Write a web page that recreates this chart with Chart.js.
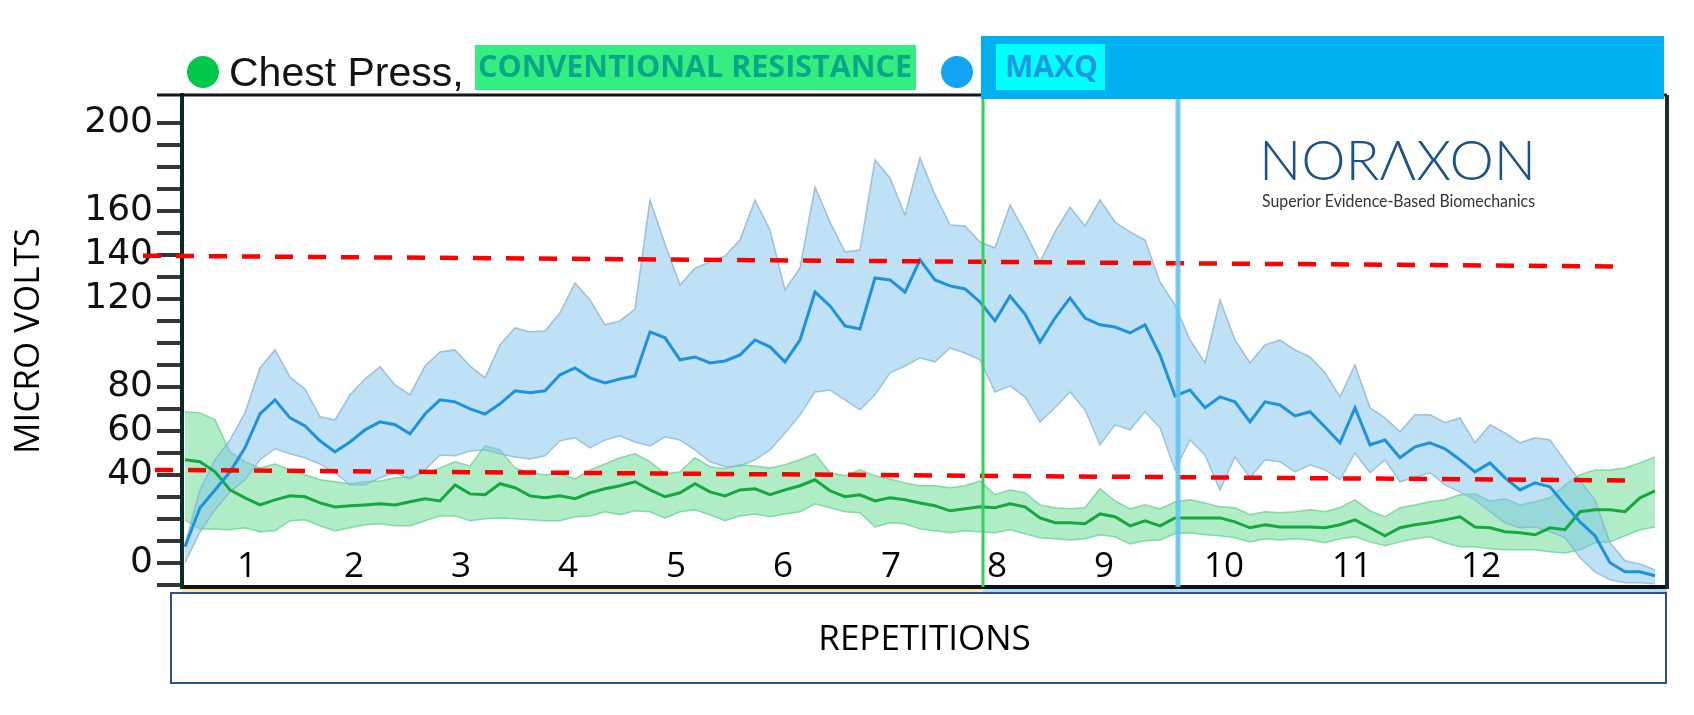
<!DOCTYPE html>
<html>
<head>
<meta charset="utf-8">
<script src="https://cdn.jsdelivr.net/npm/chart.js@4.4.1/dist/chart.umd.min.js"></script>
<style>
html,body{margin:0;padding:0;background:#fff;}
#wrap{width:1694px;height:715px;position:relative;}
</style>
</head>
<body>
<div id="wrap"><canvas id="c" width="1694" height="715"></canvas></div>
<script>
// ---------------- DATA ----------------
const repLabels = ['1','2','3','4','5','6','7','8','9','10','11','12'];
// positions of repetition labels along the sample axis
const repPositions = [4.13, 11.27, 18.4, 25.53, 32.73, 39.87, 47.07, 54.13, 61.27, 69.27, 77.8, 86.4];
const yTickLabels = [0, 40, 60, 80, 120, 140, 160, 200];
const yTickMarks = [-10,0,10,20,30,40,50,60,70,80,90,100,110,120,130,140,150,160,170,180,190,200];

// MAXQ (blue) mean and band
const maxqMean = [7.3,25.0,33.1,41.3,52.2,67.6,74.0,65.8,62.2,55.4,
 50.4,54.9,60.4,64.0,62.7,58.6,67.6,74.0,73.1,69.9,
 67.6,72.2,78.1,77.2,78.1,85.4,88.5,84.0,81.7,83.5,
 84.9,104.9,102.2,92.2,93.5,90.8,91.7,94.4,101.2,98.1,
 91.3,101.2,123.0,116.7,107.6,106.2,129.4,128.5,123.0,137.6,
 128.5,125.8,124.4,118.5,109.9,121.2,113.0,100.3,111.2,120.3,
 111.2,108.1,107.1,104.4,108.1,94.4,75.8,78.5,70.4,75.4,
 73.1,64.0,73.1,71.7,66.7,68.6,61.7,54.5,70.4,53.6,
 55.8,47.7,52.7,54.5,51.8,46.8,41.3,45.4,38.6,33.1,
 36.3,34.5,26.3,18.6,12.3,0,-4.1,-4.1,-5.9];
const maxqUpper = [8.2,33.1,46.8,55.8,68.1,88.5,96.7,84.4,79.0,66.3,
 64.9,76.3,83.5,89.0,80.8,76.3,89.4,95.8,96.7,89.4,
 84.0,99.0,106.7,104.9,105.3,113.5,127.1,119.4,108.1,109.9,
 115.3,164.8,144.8,126.2,133.9,136.7,139.4,146.6,164.8,151.2,
 123.9,133.9,170.7,154.8,141.2,142.1,183.0,174.8,158.0,183.9,
 167.1,153.5,153.0,145.7,143.0,162.5,150.3,136.7,150.3,161.6,
 153.0,164.8,154.8,150.3,146.6,127.6,117.1,101.2,90.8,119.4,
 101.2,90.8,99.0,101.2,96.7,93.5,86.3,75.4,89.9,70.4,
 65.8,59.5,67.2,67.2,63.6,65.8,54.5,62.7,59.0,54.5,
 56.8,55.8,46.3,37.2,28.6,9.1,0.9,-0.5,-3.2];
const maxqLower = [0,14.1,24.1,32.2,37.7,46.8,51.8,49.5,47.7,44.9,
 40.9,35.4,35.4,38.6,40.9,38.1,42.2,49.0,48.6,50.8,
 51.3,49.5,48.1,47.2,48.6,55.4,56.8,52.2,55.8,57.7,
 54.9,53.1,57.2,55.8,51.3,45.9,43.6,44.0,46.8,51.3,
 59.0,67.2,77.6,78.5,74.0,69.5,76.3,86.3,89.4,93.1,
 91.3,97.6,95.3,92.2,77.6,80.4,75.4,64.0,70.4,77.6,
 69.5,53.6,62.7,60.4,68.6,61.3,42.2,55.8,49.0,33.1,
 48.1,38.6,46.8,45.9,41.3,44.5,42.2,37.7,49.9,40.9,
 46.8,36.8,39.0,40.9,35.4,32.2,28.6,23.2,18.2,15.9,
 16.3,14.1,11.4,2.3,-4.1,-7.7,-9.1,-9.1,-9.5];

// Conventional resistance (green) mean and band
const convMean = [46.8,45.9,41.3,33.1,29.5,26.3,28.6,30.4,30.0,27.2,
 25.4,25.9,26.3,26.8,26.3,27.7,29.1,28.1,35.4,31.3,
 30.9,35.9,34.1,30.4,29.5,30.4,29.1,31.8,33.6,35.0,
 36.8,33.1,30.0,31.8,35.9,32.2,30.4,33.1,33.6,30.9,
 33.1,35.0,37.7,32.7,30.0,30.9,28.1,29.5,28.6,27.2,
 25.9,23.6,24.5,25.4,25.0,26.8,25.4,20.4,18.2,18.2,
 17.7,22.2,20.9,16.8,19.1,16.8,20.4,20.4,20.4,20.4,
 18.6,15.9,17.3,16.3,16.3,16.3,15.9,17.3,19.5,15.9,
 12.3,15.9,17.3,18.2,19.5,20.9,16.3,15.9,14.1,13.6,
 12.7,15.9,15.0,23.2,24.1,24.1,23.2,29.5,32.7];
const convUpper = [68.6,68.1,64.9,50.4,45.9,43.1,44.9,42.2,40.0,37.7,
 36.8,35.9,36.8,37.2,38.6,39.0,40.9,43.1,45.9,44.0,
 53.1,51.3,43.1,40.9,40.0,40.4,38.1,42.2,44.9,47.7,
 49.5,45.9,40.4,41.3,47.7,43.6,42.7,44.5,44.0,43.1,
 44.5,46.8,49.5,40.9,39.5,42.2,39.5,38.1,36.3,35.0,
 35.0,34.1,35.0,37.2,30.9,33.1,31.8,26.3,25.0,24.5,
 25.0,33.6,28.1,24.5,26.3,24.5,27.7,28.6,27.2,25.4,
 25.0,21.8,23.2,22.7,23.2,24.1,23.2,25.0,28.6,23.6,
 20.9,25.0,26.3,27.7,28.6,30.9,31.3,28.1,29.1,26.3,
 27.7,29.5,35.4,40.0,42.2,42.2,43.1,45.4,48.1];
const convLower = [19.5,15.4,15.4,15.0,15.9,14.1,14.5,19.1,19.5,16.8,
 14.5,15.9,17.3,17.7,16.8,16.8,19.1,21.3,21.3,19.1,
 20.0,20.4,20.0,19.5,19.1,19.1,20.9,21.3,23.2,21.8,
 23.6,23.2,20.4,23.2,24.1,21.8,19.1,21.3,22.2,20.9,
 22.2,23.2,26.8,25.0,23.2,22.7,16.3,18.2,17.7,15.4,
 14.5,13.6,14.5,14.1,13.6,15.0,13.2,11.4,10.9,10.4,
 10.9,12.7,11.8,8.6,10.0,10.4,13.2,13.6,12.7,12.3,
 11.4,9.5,10.9,10.4,10.9,10.4,9.1,10.9,11.8,9.5,
 7.7,9.5,10.9,11.8,9.1,7.3,7.3,6.4,5.9,5.9,
 5.9,5.0,4.5,5.9,9.1,9.5,12.3,15.0,16.3];

// red dashed reference lines: [x, y] end points
const refHigh = [[-2.8, 139.5], [95.8, 134.6]];
const refLow  = [[-2.0, 42.2], [96.5, 37.4]];
// vertical phase markers (sample axis)
const phaseSplits = [53.2, 66.2];

// ---------------- CHART ----------------
const pts = arr => arr.map((v, i) => ({x: i, y: v}));
const seg = arr => arr.map(([x, y]) => ({x, y}));

const bandEdgeBlue = 'rgba(135,175,205,0.75)';
const bandEdgeGreen = 'rgba(95,205,135,0.7)';

const decor = {
  id: 'decor',
  afterDatasetsDraw(chart) {
    const {ctx, chartArea: a, scales: {x}} = chart;
    ctx.save();
    // repetition labels, placed through the x scale
    ctx.fillStyle = '#000';
    ctx.font = '35px "Open Sans"';
    ctx.textAlign = 'center';
    ctx.textBaseline = 'middle';
    repPositions.forEach((v, i) => {
      ctx.fillText(repLabels[i], x.getPixelForValue(v), a.bottom - 20);
    });
    const gx = x.getPixelForValue(phaseSplits[0]);
    const bx = x.getPixelForValue(phaseSplits[1]);
    // green phase line
    ctx.strokeStyle = '#34d05a'; ctx.lineWidth = 3;
    ctx.beginPath(); ctx.moveTo(gx, a.top); ctx.lineTo(gx, a.bottom); ctx.stroke();
    // blue phase line
    ctx.strokeStyle = 'rgba(100,196,242,0.9)'; ctx.lineWidth = 5;
    ctx.beginPath(); ctx.moveTo(bx, a.top); ctx.lineTo(bx, a.bottom); ctx.stroke();
    // frame: top and right
    ctx.strokeStyle = '#151515'; ctx.lineWidth = 3;
    ctx.beginPath(); ctx.moveTo(a.left - 25, a.top); ctx.lineTo(a.right, a.top); ctx.stroke();
    ctx.strokeStyle = '#1a2e2e'; ctx.lineWidth = 4;
    ctx.beginPath(); ctx.moveTo(a.right, a.top); ctx.lineTo(a.right, a.bottom + 2); ctx.stroke();
    // coloured strips under bottom axis
    ctx.fillStyle = '#f3e6a6'; ctx.fillRect(a.left, a.bottom + 2, gx - a.left, 3);
    ctx.fillStyle = '#a6e0f5'; ctx.fillRect(gx, a.bottom + 2, a.right - gx, 3);
    // REPETITIONS box
    ctx.strokeStyle = '#2f4f8f'; ctx.lineWidth = 2;
    ctx.strokeRect(a.left - 11, a.bottom + 6, a.right - a.left + 10, 90);
    ctx.restore();
  },
  afterDraw(chart) {
    const {ctx} = chart;
    ctx.save();
    // blue banner
    ctx.fillStyle = '#00b0f0'; ctx.fillRect(981, 36, 683, 63);
    ctx.fillStyle = '#00ffff'; ctx.fillRect(996, 44, 109, 46);
    ctx.save();
    ctx.beginPath(); ctx.rect(996, 44, 109, 46); ctx.clip();
    ctx.fillStyle = '#1e98e2'; ctx.font = 'bold 30px "Open Sans"';
    ctx.textBaseline = 'middle'; ctx.textAlign = 'left';
    ctx.fillText('MAXQ', 1005, 68);
    ctx.restore();
    // green box
    ctx.fillStyle = '#34ef80'; ctx.fillRect(475, 45, 441, 45);
    ctx.fillStyle = '#0aa68a'; ctx.font = 'bold 31px "Open Sans"';
    ctx.textBaseline = 'middle'; ctx.textAlign = 'left';
    ctx.fillText('CONVENTIONAL RESISTANCE', 478, 68, 434);
    // legend dots
    ctx.fillStyle = '#00c84a';
    ctx.beginPath(); ctx.arc(203, 72, 16, 0, Math.PI * 2); ctx.fill();
    ctx.fillStyle = '#12a4f2';
    ctx.beginPath(); ctx.arc(957, 72, 16, 0, Math.PI * 2); ctx.fill();
    // Chest Press,
    ctx.fillStyle = '#141414'; ctx.font = '41px "Liberation Sans"';
    ctx.textBaseline = 'alphabetic';
    ctx.fillText('Chest Press,', 229, 86);
    // logo
    ctx.fillStyle = '#1b5384'; ctx.font = '300 56px Lato';
    ctx.fillText('NORΛXON', 1259, 180, 280);
    ctx.fillStyle = '#333'; ctx.font = '17px Lato';
    ctx.fillText('Superior Evidence-Based Biomechanics', 1262, 207, 273);
    ctx.restore();
  }
};

const lineBase = {pointRadius: 0, pointHoverRadius: 0, tension: 0};

new Chart(document.getElementById('c'), {
  type: 'line',
  data: {
    datasets: [
      Object.assign({label: 'High reference', data: seg(refHigh), borderColor: '#ff0000', borderWidth: 4.5, borderDash: [18, 15], fill: false, clip: false}, lineBase),
      Object.assign({label: 'Low reference', data: seg(refLow), borderColor: '#ff0000', borderWidth: 4.5, borderDash: [18, 15], fill: false, clip: false}, lineBase),
      Object.assign({label: 'MAXQ', data: pts(maxqMean), borderColor: '#1c93da', borderWidth: 3, fill: false}, lineBase),
      Object.assign({label: 'Chest Press, conventional resistance', data: pts(convMean), borderColor: '#14a83f', borderWidth: 3, fill: false}, lineBase),
      Object.assign({label: 'MAXQ upper', data: pts(maxqUpper), borderColor: bandEdgeBlue, borderWidth: 1.5, backgroundColor: 'rgba(125,195,235,0.5)', fill: '+1'}, lineBase),
      Object.assign({label: 'MAXQ lower', data: pts(maxqLower), borderColor: bandEdgeBlue, borderWidth: 1.5, fill: false}, lineBase),
      Object.assign({label: 'Conv upper', data: pts(convUpper), borderColor: bandEdgeGreen, borderWidth: 1.5, backgroundColor: 'rgba(80,215,130,0.45)', fill: '+1'}, lineBase),
      Object.assign({label: 'Conv lower', data: pts(convLower), borderColor: bandEdgeGreen, borderWidth: 1.5, fill: false}, lineBase)
    ]
  },
  options: {
    responsive: false,
    animation: false,
    events: [],
    layout: {padding: {top: 95, right: 27, bottom: 0, left: 0}},
    plugins: {legend: {display: false}, tooltip: {enabled: false}, title: {display: false}},
    scales: {
      x: {
        type: 'linear', min: -0.2, max: 98.8,
        afterBuildTicks: ax => { ax.ticks = repPositions.map(v => ({value: v})); },
        afterFit: ax => { ax.height = 128; },
        grid: {display: false, drawTicks: false},
        border: {display: true, color: '#111', width: 4},
        ticks: {display: false, callback: (v, i) => repLabels[i]},
        title: {display: true, text: 'REPETITIONS', color: '#000',
          font: {family: 'Open Sans', size: 35, lineHeight: 1}, padding: {top: 0, bottom: 57}}
      },
      y: {
        type: 'linear', min: -11, max: 212.5,
        afterBuildTicks: ax => { ax.ticks = yTickMarks.map(v => ({value: v})); },
        afterFit: ax => { ax.width = 182; },
        grid: {display: true, drawOnChartArea: false, drawTicks: true, tickLength: 25,
          tickWidth: 4, tickColor: '#363636', lineWidth: 4, color: '#363636'},
        border: {display: true, color: '#0c2a2a', width: 4},
        ticks: {
          autoSkip: false, padding: 4, color: '#111',
          font: {family: 'DejaVu Sans', size: 36},
          callback: v => yTickLabels.includes(v) ? String(v) : ''
        },
        title: {display: true, text: 'MICRO VOLTS', color: '#000',
          font: {family: 'Open Sans', size: 35, lineHeight: 1}, padding: {top: 12, bottom: 0}}
      }
    }
  },
  plugins: [decor]
});
</script>
</body>
</html>
